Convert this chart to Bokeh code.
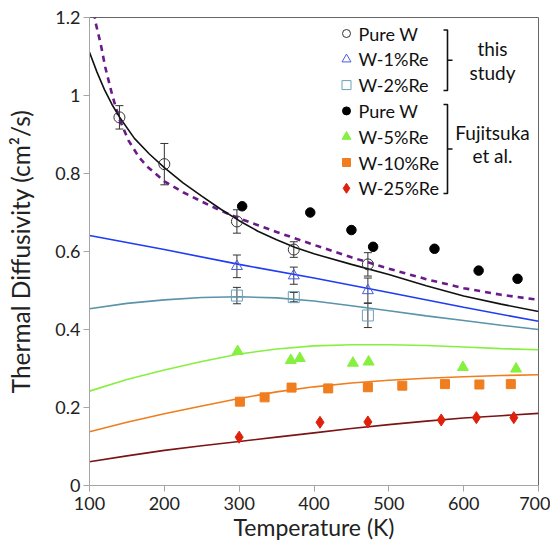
from bokeh.plotting import figure
from bokeh.models import (ColumnDataSource, Whisker, TeeHead, FixedTicker, Label, Range1d)
from bokeh.embed import file_html
from bokeh.resources import INLINE
from bokeh.core.properties import value

# ---------------- data ----------------
# this study (open markers, with error bars)
pure_T = [140, 200, 297, 373, 472]
pure_D = [0.944, 0.824, 0.677, 0.605, 0.567]
pure_err = [0.030, 0.053, 0.030, 0.020, 0.030]

re1_T = [297, 373, 472]
re1_D = [0.562, 0.538, 0.500]
re1_err = [0.029, 0.022, 0.032]

re2_T = [297, 373, 472]
re2_D = [0.487, 0.483, 0.436]
re2_err = [0.021, 0.012, 0.031]

# Fujitsuka et al.
fuj_pure_T = [304, 395, 450, 479, 561, 620, 672]
fuj_pure_D = [0.716, 0.700, 0.655, 0.612, 0.607, 0.551, 0.530]
fuj_re5_T = [298, 369, 381, 452, 473, 599, 670]
fuj_re5_D = [0.344, 0.321, 0.326, 0.314, 0.317, 0.303, 0.299]
fuj_re10_T = [301, 334, 370, 419, 472, 518, 575, 621, 663]
fuj_re10_D = [0.215, 0.226, 0.251, 0.249, 0.252, 0.256, 0.260, 0.259, 0.260]
fuj_re25_T = [300, 408, 472, 570, 617, 667]
fuj_re25_D = [0.124, 0.162, 0.163, 0.168, 0.174, 0.174]

# fitted / model curves
fit_pure_T = [100, 110, 120, 130, 140, 160, 180, 200, 225, 250, 275, 300, 325, 350,
              375, 400, 450, 500, 550, 600, 650, 700]
fit_pure_D = [1.111, 1.060, 1.015, 0.977, 0.945, 0.890, 0.850, 0.815, 0.776, 0.742,
              0.709, 0.679, 0.652, 0.630, 0.610, 0.594, 0.567, 0.541, 0.512, 0.486,
              0.465, 0.446]
model_T = [104, 108, 115, 121, 130, 139, 152, 166, 177, 200, 225, 250, 275, 300, 350,
           400, 450, 500, 550, 600, 650, 700]
model_D = [1.240, 1.188, 1.132, 1.073, 1.004, 0.944, 0.885, 0.842, 0.818, 0.780, 0.752,
           0.728, 0.705, 0.685, 0.650, 0.617, 0.585, 0.556, 0.529, 0.506, 0.489, 0.476]
fit_re1_T = [100, 200, 300, 400, 500, 600, 700]
fit_re1_D = [0.641, 0.605, 0.567, 0.532, 0.495, 0.457, 0.421]
grid_T = [100, 150, 200, 250, 300, 350, 400, 450, 500, 550, 600, 650, 700]
fit_re2_D = [0.453, 0.467, 0.476, 0.482, 0.484, 0.481, 0.473, 0.461, 0.448, 0.435,
             0.423, 0.411, 0.400]
fit_re5_D = [0.242, 0.272, 0.296, 0.318, 0.337, 0.350, 0.358, 0.361, 0.361, 0.359,
             0.355, 0.351, 0.348]
fit_re10_D = [0.138, 0.162, 0.184, 0.204, 0.223, 0.240, 0.253, 0.263, 0.270, 0.275,
              0.279, 0.282, 0.284]
fit_re25_D = [0.061, 0.076, 0.090, 0.102, 0.113, 0.124, 0.135, 0.146, 0.156, 0.165,
              0.173, 0.179, 0.185]

x_ticks = [100, 200, 300, 400, 500, 600, 700]
y_ticks = [0, 0.2, 0.4, 0.6, 0.8, 1.0, 1.2]
y_tick_labels = ["0", "0.2", "0.4", "0.6", "0.8", "1", "1.2"]

legend_labels = ["Pure W", "W-1%Re", "W-2%Re", "Pure W", "W-5%Re", "W-10%Re", "W-25%Re"]
group_labels = [["this", "study"], ["Fujitsuka", "et al."]]

FONT = "Lato"
X0, X1, Y0, Y1 = 100, 700, 0, 1.2
FRAME_L, FRAME_T, FRAME_R, FRAME_B = 89, 17, 538, 485
W, H = 550, 545

# ---------------- figure ----------------
p = figure(width=W, height=H, x_range=Range1d(X0, X1), y_range=Range1d(Y0, Y1),
           output_backend="svg", toolbar_location=None,
           min_border_left=FRAME_L, min_border_right=W - FRAME_R,
           min_border_top=FRAME_T, min_border_bottom=H - FRAME_B)
p.background_fill_color = "white"
p.border_fill_color = "white"
p.outline_line_color = "#666666"
p.outline_line_width = 1
p.xgrid.visible = False
p.ygrid.visible = False

for ax in (p.xaxis[0], p.yaxis[0]):
    ax.axis_line_color = "#a6a6a6"
    ax.major_tick_line_color = "#a6a6a6"
    ax.minor_tick_line_color = None
    ax.major_tick_in = 0
    ax.major_tick_out = 6
    ax.major_label_text_font = FONT
    ax.major_label_text_font_size = "18px"
    ax.major_label_text_color = "#222222"
    ax.axis_label_text_font = FONT
    ax.axis_label_text_font_style = "normal"
    ax.axis_label_text_color = "#222222"

p.xaxis.ticker = FixedTicker(ticks=x_ticks)
p.yaxis.ticker = FixedTicker(ticks=y_ticks)
p.yaxis.major_label_overrides = {t: s for t, s in zip(y_ticks, y_tick_labels)}
p.xaxis.axis_label = "Temperature (K)"
p.yaxis.axis_label = "Thermal Diffusivity (cm²/s)"
p.xaxis.axis_label_text_font_size = "23px"
p.yaxis.axis_label_text_font_size = "24.5px"
p.xaxis.major_label_standoff = 5
p.xaxis.axis_label_standoff = 0
p.yaxis.major_label_standoff = 3
p.yaxis.axis_label_standoff = 17

# curves
p.line(grid_T, fit_re25_D, line_color="#7b1414", line_width=1.6)
p.line(grid_T, fit_re10_D, line_color="#f07d1e", line_width=1.6)
p.line(grid_T, fit_re5_D, line_color="#86f040", line_width=1.6)
p.line(grid_T, fit_re2_D, line_color="#5b93ab", line_width=1.6)
p.line(fit_re1_T, fit_re1_D, line_color="#1f3cf5", line_width=1.6)
p.line(model_T, model_D, line_color="#6a1b8a", line_width=2.6, line_dash="6 5")
p.line(fit_pure_T, fit_pure_D, line_color="#111111", line_width=1.6)

# error bars
def add_err(T, D, E):
    src = ColumnDataSource(dict(x=T, up=[d + e for d, e in zip(D, E)],
                                lo=[d - e for d, e in zip(D, E)]))
    w = Whisker(base="x", upper="up", lower="lo", source=src, dimension="height",
                line_color="#333333", line_width=1,
                upper_head=TeeHead(size=8, line_color="#333333", line_width=1),
                lower_head=TeeHead(size=8, line_color="#333333", line_width=1))
    p.add_layout(w)

add_err(pure_T, pure_D, pure_err)
add_err(re1_T, re1_D, re1_err)
add_err(re2_T, re2_D, re2_err)

# marker styles
styles = [
    dict(marker="circle", fill_color=None, line_color="#333333", line_width=1),
    dict(marker="triangle", fill_color=None, line_color="#4a5ae6", line_width=1),
    dict(marker="square", fill_color=None, line_color="#6aa2b8", line_width=1),
    dict(marker="circle", fill_color="black", line_color="black"),
    dict(marker="triangle", fill_color="#86f040", line_color="#86f040"),
    dict(marker="square", fill_color="#f07d1e", line_color="#f07d1e"),
    dict(marker="diamond", fill_color="#e0200a", line_color="#e0200a"),
]
data_sizes = [11, 11, 11, 9.5, 11, 9, 12]
legend_sizes = [8, 9, 9, 8, 9, 8, 10]
series = [(pure_T, pure_D), (re1_T, re1_D), (re2_T, re2_D), (fuj_pure_T, fuj_pure_D),
          (fuj_re5_T, fuj_re5_D), (fuj_re10_T, fuj_re10_D), (fuj_re25_T, fuj_re25_D)]
for (T, D), st, sz in zip(series, styles, data_sizes):
    p.scatter(T, D, size=sz, **st)

# ---- legend (drawn in the frame, positions given in frame pixels) ----
fw, fh = FRAME_R - FRAME_L, FRAME_B - FRAME_T
def fx(px):
    return X0 + px * (X1 - X0) / fw
def fy(py):
    return Y1 - py * (Y1 - Y0) / fh

row0, row_step, mark_x, text_x = 16, 25.8, 257, 269
for i, (st, sz) in enumerate(zip(styles, legend_sizes)):
    p.scatter([fx(mark_x)], [fy(row0 + i * row_step)], size=sz, **st)
p.text(x=[fx(text_x)] * len(legend_labels),
       y=[fy(row0 + i * row_step) for i in range(len(legend_labels))],
       text=legend_labels, text_font=value(FONT), text_font_size=value("18px"),
       text_baseline="middle", text_align="left", text_color="#111111")

# brackets of the two legend groups
brace_x, serif, tick = 358, 4, 5
for (top, bot) in [(12.5, 73), (87, 176)]:
    mid = (top + bot) / 2
    p.line([fx(brace_x - serif), fx(brace_x), fx(brace_x), fx(brace_x - serif)],
           [fy(top), fy(top), fy(bot), fy(bot)], line_color="#111111", line_width=1.6)
    p.line([fx(brace_x), fx(brace_x + tick)], [fy(mid), fy(mid)],
           line_color="#111111", line_width=1.6)

for lines, rows in zip(group_labels, [(31, 55), (115, 138)]):
    for txt, r in zip(lines, rows):
        p.add_layout(Label(x=fx(403), y=fy(r), text=txt, text_align="center",
                           text_baseline="middle", text_font=FONT,
                           text_font_size="19px", text_color="#111111"))

open("out.html", "w").write(file_html(p, INLINE))
